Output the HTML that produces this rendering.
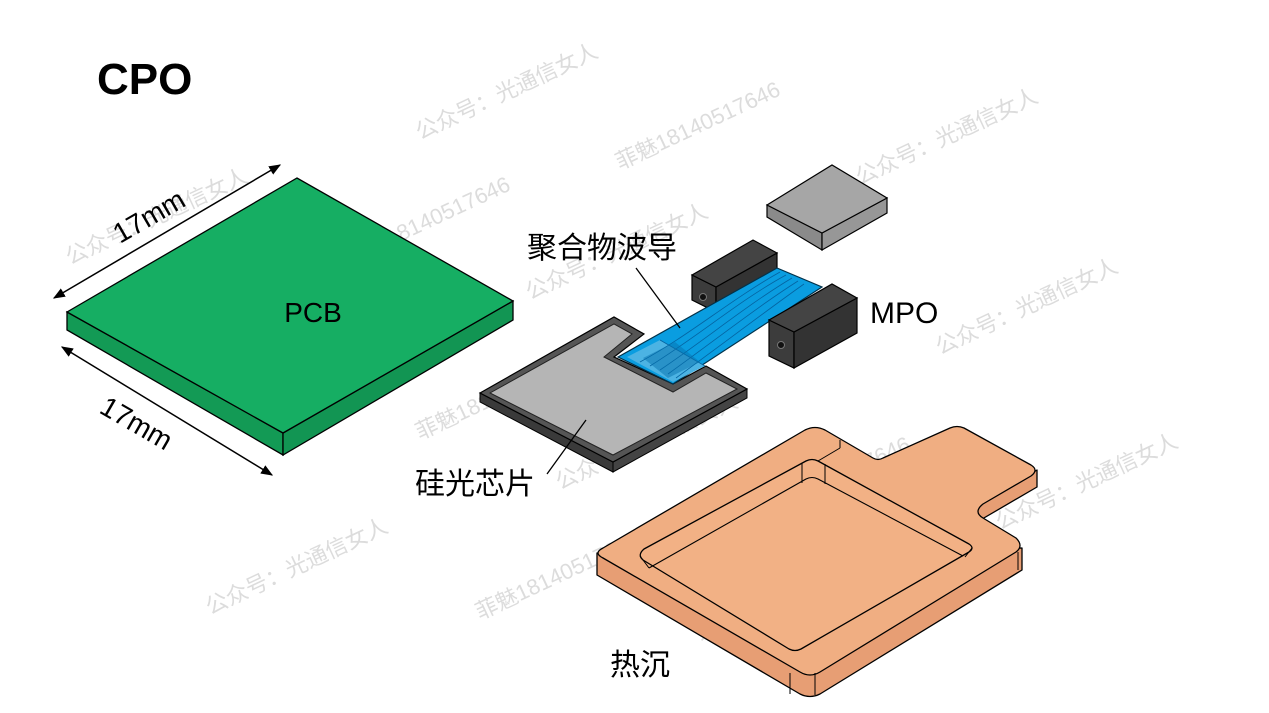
<!DOCTYPE html>
<html><head><meta charset="utf-8"><style>
html,body{margin:0;padding:0;background:#fff;}
svg{display:block;}
text{font-family:"Liberation Sans","Noto Sans CJK SC",sans-serif;}
.wm{fill:#dcdcdc;font-family:"Liberation Serif","Noto Serif CJK SC",serif;font-size:22px;}
</style></head><body>
<svg width="1269" height="713" viewBox="0 0 1269 713" xmlns="http://www.w3.org/2000/svg">
<defs>
<marker id="ar" viewBox="0 0 10 10" refX="9" refY="5" markerWidth="8" markerHeight="8" orient="auto-start-reverse"><path d="M0,1 L10,5 L0,9 z" fill="#000"/></marker>
</defs>
<g class="wm">
<text transform="translate(420,140) rotate(-25)">公众号：光通信女人</text>
<text transform="translate(620,170) rotate(-25)">菲魅18140517646</text>
<text transform="translate(860,185) rotate(-25)">公众号：光通信女人</text>
<text transform="translate(350,265) rotate(-25)">菲魅18140517646</text>
<text transform="translate(70,265) rotate(-25)">公众号：光通信女人</text>
<text transform="translate(530,300) rotate(-25)">公众号：光通信女人</text>
<text transform="translate(940,355) rotate(-25)">公众号：光通信女人</text>
<text transform="translate(420,440) rotate(-25)">菲魅18140517646</text>
<text transform="translate(240,400) rotate(-25)">光通信女人</text>
<text transform="translate(560,490) rotate(-25)">公众号：光通信女人</text>
<text transform="translate(750,525) rotate(-25)">菲魅18140517646</text>
<text transform="translate(1000,530) rotate(-25)">公众号：光通信女人</text>
<text transform="translate(210,615) rotate(-25)">公众号：光通信女人</text>
<text transform="translate(480,620) rotate(-25)">菲魅18140517646</text>
<text transform="translate(700,640) rotate(-25)">光通信女人</text>
</g>

<text x="97" y="94" font-size="44" font-weight="bold">CPO</text>

<!-- PCB -->
<polygon points="67,312 283,433 283,455 67,330" fill="#139a55" stroke="#000" stroke-width="1.3"/>
<polygon points="283,433 513,301 513,320 283,455" fill="#129553" stroke="#000" stroke-width="1.3"/>
<polygon points="67,312 297,178 513,301 283,433" fill="#16ae63" stroke="#000" stroke-width="1.3"/>
<text x="313" y="322" font-size="28" text-anchor="middle">PCB</text>
<line x1="54" y1="298" x2="280" y2="165" stroke="#000" stroke-width="1.5" marker-start="url(#ar)" marker-end="url(#ar)"/>
<line x1="62" y1="347" x2="272" y2="475" stroke="#000" stroke-width="1.5" marker-start="url(#ar)" marker-end="url(#ar)"/>
<text transform="translate(120,244) rotate(-30)" font-size="28">17mm</text>
<text transform="translate(98,412) rotate(30)" font-size="28">17mm</text>

<!-- gray lid -->
<polygon points="767,205 822,233 822,250 767,217" fill="#8a8a8a" stroke="#000" stroke-width="1.2"/>
<polygon points="822,233 887,198 887,213 822,250" fill="#979797" stroke="#000" stroke-width="1.2"/>
<polygon points="767,205 832,165 887,198 822,233" fill="#a6a6a6" stroke="#000" stroke-width="1.2"/>

<!-- chip -->
<polygon points="480,393 613,462 613,472 480,402" fill="#3a3a3a" stroke="#000" stroke-width="1"/>
<polygon points="613,462 747,389 747,398 613,472" fill="#444" stroke="#000" stroke-width="1"/>
<polygon points="480,393 614,317 644,334 614,357 673,384 706,366 747,389 613,462" fill="#555" stroke="#000" stroke-width="1.2"/>
<polygon points="490,393 614,324 632,334 604,357 673,392 706,373 737,389 613,455" fill="#b5b5b5" stroke="#222" stroke-width="1"/>

<!-- back MPO -->
<polygon points="692,275 716,287 716,312 692,300" fill="#3c3c3c" stroke="#000" stroke-width="1.2"/>
<polygon points="716,287 777,253 777,280 716,312" fill="#333" stroke="#000" stroke-width="1.2"/>
<polygon points="692,275 753,240 777,253 716,287" fill="#444" stroke="#000" stroke-width="1.2"/>
<circle cx="703" cy="297" r="3.5" fill="#111" stroke="#777" stroke-width="1"/>

<!-- blue waveguide -->
<polygon points="618,357 777,268 822,287 673,384" fill="#0a9de0" stroke="#03324a" stroke-width="1.2"/>
<polygon points="627,357 660,340 705,366 673,382" fill="#4cb3e3"/>
<g stroke="#0563a0" stroke-width="0.8" fill="none">
<path d="M640,362 C690,335 730,300 780,272"/>
<path d="M650,366 C700,335 740,300 786,275"/>
<path d="M660,370 C710,336 750,303 792,278"/>
<path d="M668,374 C718,338 760,305 798,281"/>
<path d="M676,378 C728,340 770,308 804,284"/>
<path d="M660,340 L705,366"/>
</g>
<polygon points="643,358 675,342 700,362 668,378" fill="#0672ad" opacity="0.5"/>

<!-- front MPO -->
<polygon points="769,320 794,332 794,368 769,356" fill="#3c3c3c" stroke="#000" stroke-width="1.2"/>
<polygon points="794,332 857,298 857,333 794,368" fill="#333" stroke="#000" stroke-width="1.2"/>
<polygon points="769,320 832,284 857,298 794,332" fill="#444" stroke="#000" stroke-width="1.2"/>
<circle cx="781" cy="345" r="3.5" fill="#111" stroke="#777" stroke-width="1"/>

<text x="527" y="258" font-size="30">聚合物波导</text>
<line x1="636" y1="268" x2="680" y2="328" stroke="#000" stroke-width="1.3"/>
<text x="870" y="323" font-size="30">MPO</text>
<text x="415" y="494" font-size="30">硅光芯片</text>
<line x1="547" y1="474" x2="586" y2="420" stroke="#000" stroke-width="1.3"/>

<!-- heat sink -->
<g stroke="#000" stroke-width="1.3" stroke-linejoin="round" fill="none">
<path d="M597,553 L597,575 L800,694 Q810,699 820,694 L1022,570 L1022,548 Z" fill="#e79e74"/>
<path d="M1037,470 L1037,487 L977,522 L977,506 Z" fill="#e79e74"/>
<path d="M603,548 L805,430 Q815,425 825,430 L873,458 Q878,461 883,458 L950,428 Q957,425 964,428 L1031,465 Q1039,470 1031,476 L983,504 Q973,512 983,518 L1016,538 Q1024,546 1016,552 L820,672 Q810,678 800,672 L603,558 Q593,553 603,548 Z" fill="#f0ae82"/>
<!-- recess -->
<path d="M644,549 L806,461 Q812,458 818,461 L969,544 Q975,548 969,552 L801,649 Q795,652 789,649 L643,560 Q637,555 644,549 Z" fill="#f2b185"/>
<path d="M649,568 L806,479 Q812,476 818,479 L963,556" stroke-width="1.1"/>
<line x1="640" y1="556" x2="649" y2="568" stroke-width="1"/>
<line x1="802" y1="463" x2="802" y2="483" stroke-width="1"/>
<line x1="825" y1="464" x2="825" y2="484" stroke-width="1"/>
<line x1="972" y1="548" x2="965" y2="557" stroke-width="1"/>
<line x1="818" y1="461" x2="840" y2="448" stroke-width="1"/>
<line x1="840" y1="440" x2="840" y2="448" stroke-width="1"/>
<line x1="597" y1="555" x2="597" y2="573" stroke-width="1"/>
<line x1="790" y1="673" x2="790" y2="694" stroke-width="1"/>
<line x1="815" y1="673" x2="815" y2="695" stroke-width="1"/>
<line x1="1018" y1="552" x2="1018" y2="570" stroke-width="1"/>
</g>
<text x="610" y="675" font-size="30">热沉</text>
</svg>
</body></html>
